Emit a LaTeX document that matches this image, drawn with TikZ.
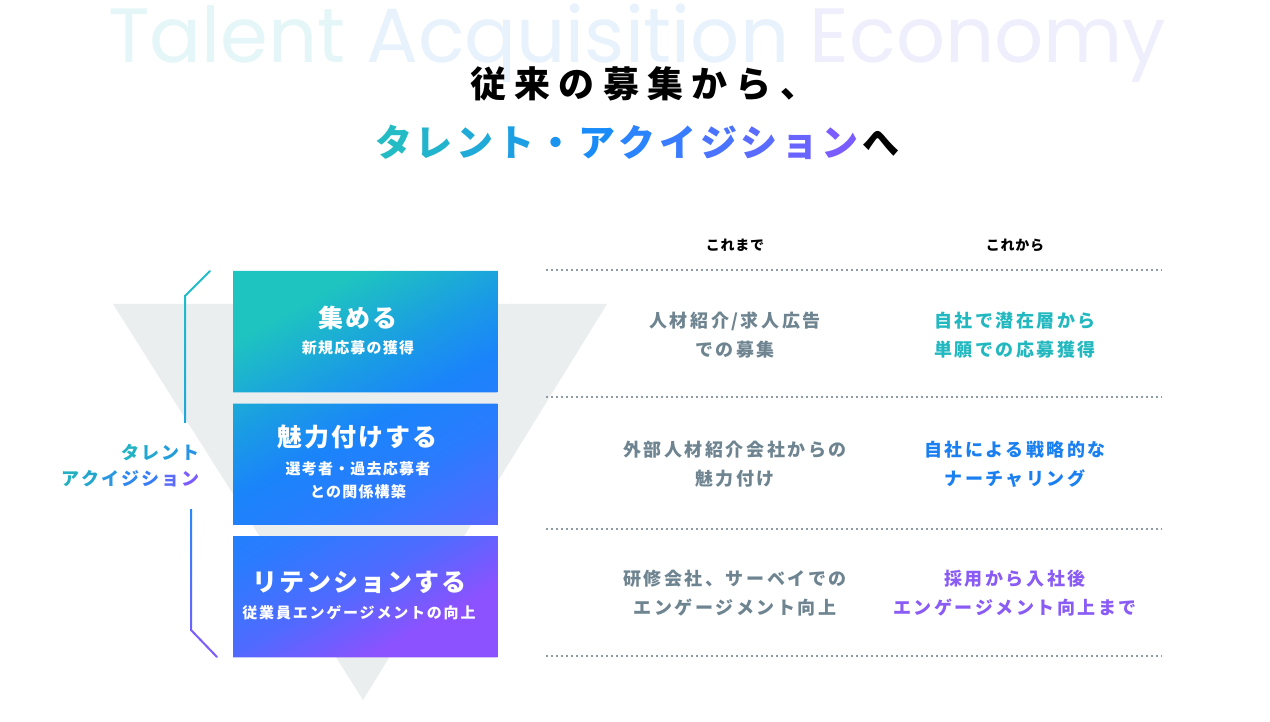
\documentclass[tikz,border=0pt]{standalone}
\usepackage{fontspec}
\setmainfont{Noto Sans CJK JP}
\newfontfamily\wmfont{Poppins}
\newfontfamily\plainjp{Noto Sans CJK JP}
\newfontfamily\titlefont{Noto Sans CJK JP}[LetterSpace=23]
\newfontfamily\boxtfont{Noto Sans CJK JP}[LetterSpace=8]
\newfontfamily\boxsfont{Noto Sans CJK JP}[LetterSpace=8]
\newfontfamily\boxsfontw{Noto Sans CJK JP}[LetterSpace=12]
\newfontfamily\colfont{Noto Sans CJK JP}[LetterSpace=14]
\newfontfamily\headfont{Noto Sans CJK JP}[LetterSpace=5]
\newcommand{\tch}[2]{\textcolor{#1}{#2}\kern3.6pt}
\newcommand{\lch}[2]{\textcolor{#1}{#2}\kern2.1pt}
\definecolor{wm1}{HTML}{E5F6F8}
\definecolor{wm2}{HTML}{E8F2FC}
\definecolor{wm3}{HTML}{EEEEFD}
\definecolor{funnel}{HTML}{EBEEEF}
\definecolor{g1}{HTML}{1EC4C0}
\definecolor{g1b}{HTML}{1A9CE4}
\definecolor{g2}{HTML}{1A84FA}
\definecolor{g2b}{HTML}{2A7CFF}
\definecolor{g2c}{HTML}{506AFF}
\definecolor{g3}{HTML}{8C52FF}
\pgfdeclareverticalshading{boxgrad}{100bp}{color(0bp)=(g3); color(25bp)=(g3); color(35bp)=(g2c); color(46bp)=(g2b); color(55bp)=(g2); color(63bp)=(g1b); color(75bp)=(g1); color(100bp)=(g1)}
\definecolor{dotc}{HTML}{8C9BA6}
\definecolor{oldc}{HTML}{6E8490}
\definecolor{newa}{HTML}{22B8C0}
\definecolor{newb}{HTML}{1A7FF0}
\definecolor{newc}{HTML}{8A5CF5}
\definecolor{t1}{HTML}{23BCC4}
\definecolor{t2}{HTML}{21B4CC}
\definecolor{t3}{HTML}{1FAAD8}
\definecolor{t4}{HTML}{1C9FE3}
\definecolor{t5}{HTML}{1A94EE}
\definecolor{t6}{HTML}{1A8CF8}
\definecolor{t7}{HTML}{2A84FF}
\definecolor{t8}{HTML}{3A7CFF}
\definecolor{t9}{HTML}{4A74FF}
\definecolor{t10}{HTML}{5A6CFF}
\definecolor{t11}{HTML}{6A64FF}
\definecolor{t12}{HTML}{7A5CFF}
\definecolor{l1}{HTML}{21B2C6}
\definecolor{l2}{HTML}{22A8D0}
\definecolor{l3}{HTML}{249EDB}
\definecolor{l4}{HTML}{2894E6}
\definecolor{m1}{HTML}{22B0C0}
\definecolor{m2}{HTML}{22A6CE}
\definecolor{m3}{HTML}{2898E0}
\definecolor{m4}{HTML}{2F88F0}
\definecolor{m5}{HTML}{3A7CF8}
\definecolor{m6}{HTML}{5A6CF8}
\definecolor{m7}{HTML}{7A5CFF}
\definecolor{brA}{HTML}{20BCC8}
\definecolor{brB}{HTML}{1FA6DA}
\definecolor{brC}{HTML}{2A88F8}
\definecolor{brD}{HTML}{6A62FF}
\definecolor{brE}{HTML}{7A5CFF}
\tikzset{
  boxnode/.style={minimum width=264pt, minimum height=121pt, inner sep=0pt, anchor=north west},
  boxtitle/.style={text=white, font=\boxtfont\bfseries\fontsize{25}{30}\selectfont, inner sep=0pt},
  boxsub/.style={text=white, font=\boxsfont\bfseries\fontsize{15}{23}\selectfont, inner sep=0pt, align=center},
  coltext/.style={font=\colfont\bfseries\fontsize{18}{29}\selectfont, inner sep=0pt, align=center},
  headtext/.style={font=\headfont\bfseries\fontsize{14}{18}\selectfont, inner sep=0pt, text=black},
  labtext/.style={anchor=east, inner sep=0pt, font=\plainjp\bfseries\fontsize{18}{26}\selectfont},
  dotline/.style={draw=dotc, line width=1.8pt, dash pattern=on 1.8pt off 3.2pt},
  bracket/.style={line width=2pt, line cap=round, line join=round}
}
\begin{document}
\begin{tikzpicture}[x=1pt,y=-1pt]
\useasboundingbox (0,0) rectangle (1270,722);
\fill[white] (0,0) rectangle (1270,722);

% watermark
\node[anchor=base west, inner sep=0pt] (wm) at (108,63)
  {\resizebox{1058pt}{!}{\wmfont\fontsize{68}{80}\selectfont\textcolor{wm1}{Talent} \textcolor{wm2}{Acquisition} \textcolor{wm3}{Economy}}};

% title
\node[anchor=west, inner sep=0pt, font=\titlefont\bfseries\fontsize{36}{44}\selectfont] (title1) at (470,84) {従来の募集から、};
\node[anchor=west, inner sep=0pt, font=\plainjp\bfseries\fontsize{37}{44}\selectfont] (title2) at (375,142)
  {\tch{t1}{タ}\tch{t2}{レ}\tch{t3}{ン}\tch{t4}{ト}\tch{t5}{・}\tch{t6}{ア}\tch{t7}{ク}\tch{t8}{イ}\tch{t9}{ジ}\tch{t10}{シ}\tch{t11}{ョ}\tch{t12}{ン}へ};

% funnel
\fill[funnel] (113,304) -- (607,304) -- (363,700) -- cycle;

% boxes
\node[boxnode] (b1) at (233,271) {};
\node[boxnode] (b2) at (233,403.5) {};
\node[boxnode] (b3) at (233,536) {};
\begin{scope}
\clip (b1.north west) rectangle (b1.south east)
      (b2.north west) rectangle (b2.south east)
      (b3.north west) rectangle (b3.south east);
\shade[shading=boxgrad, shading angle=29] (b1.north west) rectangle (b3.south east);
\end{scope}

\node[boxtitle] (b1t) at (358,318) {集める};
\node[boxsub] (b1s) at (358,348) {新規応募の獲得};
\node[boxtitle] (b2t) at (357,437) {魅力付けする};
\node[boxsub] (b2s) at (358,469) {選考者・過去応募者};
\node[boxsub] (b2s2) at (358,492) {との関係構築};
\node[boxtitle] (b3t) at (359,582) {リテンションする};
\node[boxsub, font=\boxsfontw\bfseries\fontsize{15}{23}\selectfont] (b3s) at (359,613) {従業員エンゲージメントの向上};

% bracket
\coordinate (ba) at (210,271);
\coordinate (bb) at (185,296);
\coordinate (bc) at (185,422);
\coordinate (bd) at (191,509);
\coordinate (be) at (191,630);
\coordinate (bf) at (217,657);
\draw[bracket, brA] (ba) -- (bb);
\shade[top color=brA, bottom color=brB] ([xshift=-1pt]bb) rectangle ([xshift=1pt]bc);
\shade[top color=brC, bottom color=brD] ([xshift=-1pt]bd) rectangle ([xshift=1pt]be);
\draw[bracket, brE] (be) -- (bf);

% label
\node[labtext] (lab1) at (200,453)
  {\lch{l1}{タ}\lch{l2}{レ}\lch{l3}{ン}\textcolor{l4}{ト}};
\node[labtext] (lab2) at (200,479)
  {\lch{m1}{ア}\lch{m2}{ク}\lch{m3}{イ}\lch{m4}{ジ}\lch{m5}{シ}\lch{m6}{ョ}\textcolor{m7}{ン}};

% headers
\node[headtext] (h1) at (735,245) {これまで};
\node[headtext] (h2) at (1015,245) {これから};

% dotted lines
\coordinate (d1l) at (546,270); \coordinate (d1r) at (1162,270);
\coordinate (d2l) at (546,397); \coordinate (d2r) at (1162,397);
\coordinate (d3l) at (546,529); \coordinate (d3r) at (1162,529);
\coordinate (d4l) at (546,656); \coordinate (d4r) at (1162,656);
\draw[dotline] (d1l) -- (d1r);
\draw[dotline] (d2l) -- (d2r);
\draw[dotline] (d3l) -- (d3r);
\draw[dotline] (d4l) -- (d4r);

% column texts
\node[coltext, text=oldc] (o1) at (735,335.5) {人材紹介/求人広告\\での募集};
\node[coltext, text=newa] (n1) at (1015,335.5) {自社で潜在層から\\単願での応募獲得};
\node[coltext, text=oldc] (o2) at (735,464.5) {外部人材紹介会社からの\\魅力付け};
\node[coltext, text=newb] (n2) at (1015,464.5) {自社による戦略的な\\ナーチャリング};
\node[coltext, text=oldc] (o3) at (735,593.5) {研修会社、サーベイでの\\エンゲージメント向上};
\node[coltext, text=newc] (n3) at (1015,593.5) {採用から入社後\\エンゲージメント向上まで};
\end{tikzpicture}
\end{document}
